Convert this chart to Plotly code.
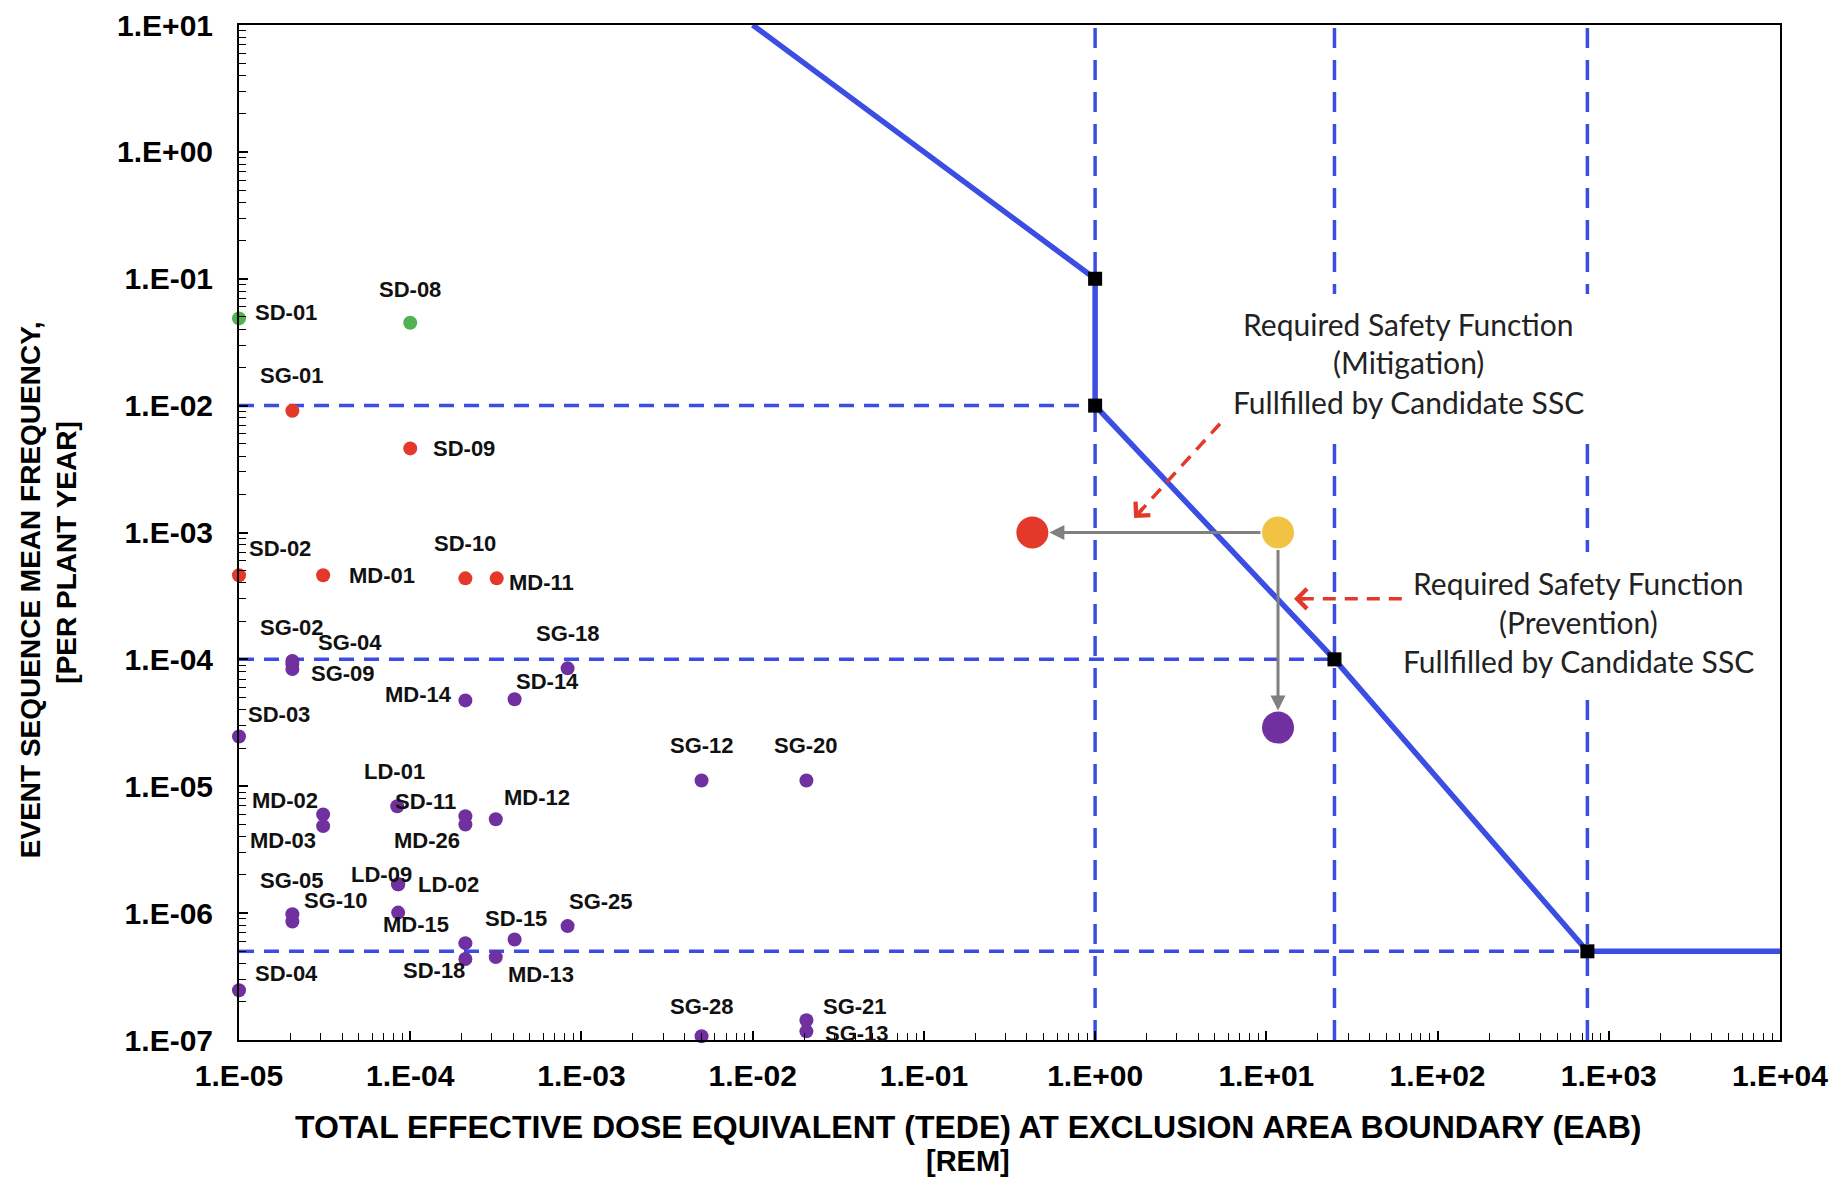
import numpy as np
import plotly.graph_objects as go

# ---------------- data ----------------
green_names = ["SD-01", "SD-08"]
green_dose = [1.0e-5, 1.0e-4]
green_freq = [4.87e-2, 4.5e-2]

red_names = ["SG-01", "SD-09", "SD-02", "MD-01", "SD-10", "MD-11"]
red_dose = [2.05e-5, 1.0e-4, 1.0e-5, 3.1e-5, 2.1e-4, 3.2e-4]
red_freq = [9.1e-3, 4.6e-3, 4.6e-4, 4.6e-4, 4.35e-4, 4.35e-4]

purple_names = ["SG-02", "SG-04", "SG-09", "SG-18", "MD-14", "SD-14", "SD-03", "SG-12", "SG-20",
                "LD-01", "SD-11", "MD-26", "MD-02", "MD-03", "MD-12",
                "LD-09", "LD-02", "MD-15", "SG-05", "SG-10", "SD-15", "SG-25",
                "", "SD-18", "MD-13", "SD-04", "SG-28", "SG-21", "SG-13"]
purple_dose = [2.05e-5, 2.05e-5, 2.05e-5, 8.3e-4, 2.1e-4, 4.07e-4, 1.0e-5, 5.03e-3, 2.06e-2,
               8.4e-5, 2.1e-4, 2.1e-4, 3.1e-5, 3.1e-5, 3.16e-4,
               8.5e-5, 8.5e-5, 8.5e-5, 2.05e-5, 2.05e-5, 4.07e-4, 8.3e-4,
               2.1e-4, 2.1e-4, 3.16e-4, 1.0e-5, 5.03e-3, 2.06e-2, 2.06e-2]
purple_freq = [9.7e-5, 9.2e-5, 8.4e-5, 8.5e-5, 4.75e-5, 4.85e-5, 2.47e-5, 1.11e-5, 1.11e-5,
               6.95e-6, 5.8e-6, 5.0e-6, 6.0e-6, 4.85e-6, 5.5e-6,
               1.69e-6, 1.69e-6, 1.01e-6, 9.8e-7, 8.6e-7, 6.2e-7, 7.9e-7,
               5.8e-7, 4.35e-7, 4.5e-7, 2.47e-7, 1.07e-7, 1.43e-7, 1.17e-7]

# frequency-consequence limit curve
limit_dose = [1e-2, 1.0, 1.0, 25.0, 750.0, 1e4]
limit_freq = [10.0, 0.1, 1e-2, 1e-4, 5e-7, 5e-7]
corner_dose = [1.0, 1.0, 25.0, 750.0]
corner_freq = [0.1, 1e-2, 1e-4, 5e-7]

# dashed reference lines
h_freq = [1e-2, 1e-4, 5e-7]
h_end_dose = [1.0, 25.0, 750.0]
v_dose = [1.0, 25.0, 750.0]

# illustrative event sequence and its shifted versions
base_dose, base_freq = 11.7, 1.0e-3
mitig_dose, mitig_freq = 0.43, 1.0e-3
prev_dose, prev_freq = 11.7, 2.9e-5

# red dashed pointer arrows (start, end)
mit_ptr_dose = [5.36, 1.69]
mit_ptr_freq = [7.2e-3, 1.3e-3]
prev_ptr_dose = [61.8, 14.5]
prev_ptr_freq = [3.0e-4, 3.0e-4]

x_tickvals = [1e-5, 1e-4, 1e-3, 1e-2, 1e-1, 1e0, 1e1, 1e2, 1e3, 1e4]
x_ticktext = ["1.E-05", "1.E-04", "1.E-03", "1.E-02", "1.E-01", "1.E+00",
              "1.E+01", "1.E+02", "1.E+03", "1.E+04"]
y_tickvals = [1e-7, 1e-6, 1e-5, 1e-4, 1e-3, 1e-2, 1e-1, 1e0, 1e1]
y_ticktext = ["1.E-07", "1.E-06", "1.E-05", "1.E-04", "1.E-03", "1.E-02",
              "1.E-01", "1.E+00", "1.E+01"]

x_title_1 = "TOTAL EFFECTIVE DOSE EQUIVALENT (TEDE) AT EXCLUSION AREA BOUNDARY (EAB)"
x_title_2 = "[REM]"
y_title_1 = "EVENT SEQUENCE MEAN FREQUENCY,"
y_title_2 = "[PER PLANT YEAR]"
mit_lines = ["Required Safety Function", "(Mitigation)", "Fullfilled by Candidate SSC"]
prev_lines = ["Required Safety Function", "(Prevention)", "Fullfilled by Candidate SSC"]

# ---------------- styles ----------------
BLUE = "#3B4DE3"
GREEN = "#52B152"
RED = "#E2392B"
PURPLE = "#7030A0"
YELLOW = "#F2C342"
GRAY = "#808080"
ARIAL = "Liberation Sans, Arial, sans-serif"
CAL = "Lato, Carlito, Calibri, sans-serif"

# label offsets (px, dy positive = down) relative to each dot
label_offsets = {
    "SD-01": (47, -6), "SD-08": (0, -33), "SG-01": (0, -35), "SD-09": (54, 0),
    "SD-02": (41, -27), "MD-01": (59, 0), "SD-10": (0, -35), "MD-11": (45, 4),
    "SG-02": (0, -34), "SG-04": (58, -21), "SG-09": (51, 5), "SG-18": (0, -35),
    "MD-14": (-47, -6), "SD-14": (33, -18), "SD-03": (40, -22), "SG-12": (0, -35),
    "SG-20": (0, -35), "LD-01": (-3, -35), "SD-11": (-40, -15), "MD-26": (-38, 16),
    "MD-02": (-38, -14), "MD-03": (-40, 14), "MD-12": (41, -22), "LD-09": (-17, -10),
    "LD-02": (50, 0), "MD-15": (18, 12), "SG-05": (0, -34), "SG-10": (44, -21),
    "SD-15": (1, -21), "SG-25": (33, -25), "SD-18": (-31, 12), "MD-13": (45, 17),
    "SD-04": (47, -17), "SG-28": (0, -30), "SG-21": (49, -14), "SG-13": (51, 2),
}

fig = go.Figure()

# vertical dashed lines
for vd in v_dose:
    fig.add_trace(go.Scatter(x=[vd, vd], y=[y_tickvals[0], y_tickvals[-1]], mode="lines",
                             line=dict(color=BLUE, width=3.5, dash="20px,12px"),
                             hoverinfo="skip", showlegend=False))
# horizontal dashed lines
for hf, he in zip(h_freq, h_end_dose):
    fig.add_trace(go.Scatter(x=[x_tickvals[0], he], y=[hf, hf], mode="lines",
                             line=dict(color=BLUE, width=3.5, dash="15px,10px"),
                             hoverinfo="skip", showlegend=False))

# limit curve
fig.add_trace(go.Scatter(x=limit_dose, y=limit_freq, mode="lines",
                         line=dict(color=BLUE, width=5.5), showlegend=False))
fig.add_trace(go.Scatter(x=corner_dose, y=corner_freq, mode="markers",
                         marker=dict(symbol="square", size=14, color="black"),
                         showlegend=False, cliponaxis=False))

# event sequences
for names, dose, freq, col in [(green_names, green_dose, green_freq, GREEN),
                               (red_names, red_dose, red_freq, RED),
                               (purple_names, purple_dose, purple_freq, PURPLE)]:
    fig.add_trace(go.Scatter(x=dose, y=freq, mode="markers", text=names,
                             marker=dict(size=14, color=col, line=dict(width=0)),
                             showlegend=False, cliponaxis=False))
    for n, xd, yf in zip(names, dose, freq):
        if not n:
            continue
        dx, dy = label_offsets[n]
        fig.add_annotation(x=np.log10(xd), y=np.log10(yf), xref="x", yref="y", text=n,
                           showarrow=False, xshift=dx, yshift=-dy,
                           xanchor="center", yanchor="middle",
                           font=dict(family=ARIAL, size=22, color="#111", weight="bold"))

# red dashed pointers
for pd_, pf_ in [(mit_ptr_dose, mit_ptr_freq), (prev_ptr_dose, prev_ptr_freq)]:
    fig.add_trace(go.Scatter(x=pd_, y=pf_, mode="lines",
                             line=dict(color=RED, width=3.5, dash="13px,9px"),
                             showlegend=False, hoverinfo="skip"))
    lx = np.log10(pd_)
    ly = np.log10(pf_)
    fig.add_annotation(x=lx[1], y=ly[1], xref="x", yref="y",
                       ax=lx[1] + 0.12 * (lx[0] - lx[1]), ay=ly[1] + 0.12 * (ly[0] - ly[1]),
                       axref="x", ayref="y", text="", showarrow=True,
                       arrowhead=4, arrowsize=1.1, arrowwidth=3.5, arrowcolor=RED)

# big illustrative dots
fig.add_trace(go.Scatter(x=[mitig_dose, base_dose, prev_dose], y=[mitig_freq, base_freq, prev_freq],
                         mode="markers",
                         marker=dict(size=32, color=[RED, YELLOW, PURPLE], line=dict(width=0)),
                         showlegend=False))

# gray arrows
for td, tf in [(mitig_dose, mitig_freq), (prev_dose, prev_freq)]:
    fig.add_annotation(x=np.log10(td), y=np.log10(tf), xref="x", yref="y",
                       ax=np.log10(base_dose), ay=np.log10(base_freq), axref="x", ayref="y",
                       text="", showarrow=True, arrowhead=2, arrowsize=1, arrowwidth=3,
                       arrowcolor=GRAY, standoff=17, startstandoff=16)

# text boxes (white cover + lines)
def text_box(cx, cy, w, h, lines, lx, ly_list):
    fig.add_annotation(x=cx, y=cy, xref="paper", yref="paper", text=" ", showarrow=False,
                       width=w, height=h, bgcolor="white", borderpad=0, borderwidth=0,
                       xanchor="center", yanchor="middle")
    for t, ly in zip(lines, ly_list):
        fig.add_annotation(x=lx, y=ly, xref="paper", yref="paper", text=t, showarrow=False,
                           xanchor="center", yanchor="middle",
                           font=dict(family=CAL, size=30, color="#222"))

text_box(0.7627, 0.6644, 370, 143, mit_lines, 0.7589, [0.7059, 0.6678, 0.6286])
text_box(0.8760, 0.4118, 365, 140, prev_lines, 0.8692, [0.4498, 0.4118, 0.3737])

# axis titles
fig.add_annotation(x=0.473, y=-0.0854, xref="paper", yref="paper", text=x_title_1,
                   showarrow=False, xanchor="center", yanchor="middle",
                   font=dict(family=ARIAL, size=32, color="black", weight="bold"))
fig.add_annotation(x=0.473, y=-0.1195, xref="paper", yref="paper", text=x_title_2,
                   showarrow=False, xanchor="center", yanchor="middle",
                   font=dict(family=ARIAL, size=29, color="black", weight="bold"))
fig.add_annotation(x=-0.1354, y=0.4435, xref="paper", yref="paper", text=y_title_1,
                   showarrow=False, textangle=-90, xanchor="center", yanchor="middle",
                   font=dict(family=ARIAL, size=28, color="black", weight="bold"))
fig.add_annotation(x=-0.1125, y=0.4798, xref="paper", yref="paper", text=y_title_2,
                   showarrow=False, textangle=-90, xanchor="center", yanchor="middle",
                   font=dict(family=ARIAL, size=28, color="black", weight="bold"))

minor_x = [k * 10.0 ** e for e in range(-5, 4) for k in range(2, 10)]
minor_y = [k * 10.0 ** e for e in range(-7, 1) for k in range(2, 10)]

tickfont = dict(family=ARIAL, size=30, color="black", weight="bold")
fig.update_layout(
    width=1823, height=1169,
    margin=dict(l=231, r=51, t=17, b=137, autoexpand=False),
    paper_bgcolor="white", plot_bgcolor="white",
    xaxis=dict(type="log", range=[-5, 4], tickmode="array", tickvals=x_tickvals,
               ticktext=x_ticktext, ticks="inside", ticklen=9, tickwidth=1.5, tickcolor="black",
               minor=dict(tickmode="array", tickvals=minor_x, ticks="inside", ticklen=7,
                          tickwidth=1.2, tickcolor="black", showgrid=False),
               showline=True, linecolor="black", linewidth=2, mirror=True, automargin=False,
               showgrid=False, zeroline=False, tickfont=tickfont, ticklabelstandoff=8,
               ticklabeloverflow="allow"),
    yaxis=dict(type="log", range=[-7, 1], tickmode="array", tickvals=y_tickvals,
               ticktext=y_ticktext, ticks="inside", ticklen=9, tickwidth=1.5, tickcolor="black",
               minor=dict(tickmode="array", tickvals=minor_y, ticks="inside", ticklen=7,
                          tickwidth=1.2, tickcolor="black", showgrid=False),
               showline=True, linecolor="black", linewidth=2, mirror=True, automargin=False,
               showgrid=False, zeroline=False, tickfont=tickfont, ticklabelstandoff=18,
               ticklabeloverflow="allow"),
)

fig.write_html("out.html")
